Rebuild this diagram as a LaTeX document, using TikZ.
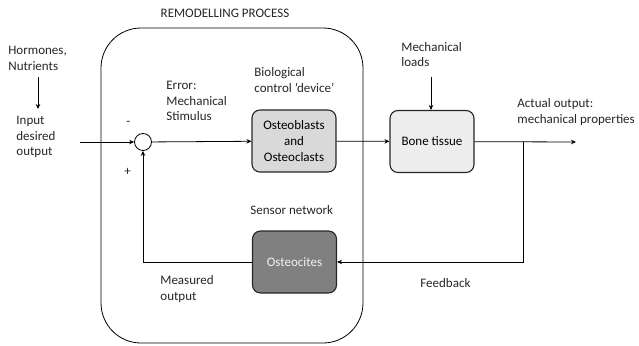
\documentclass[tikz,border=0pt]{standalone}
\usepackage{fontspec}
\setmainfont{Carlito}
\usetikzlibrary{arrows.meta}
\begin{document}
\begin{tikzpicture}[x=1pt,y=-1pt,
  font=\fontsize{13}{15.8}\selectfont,
  line width=0.8pt,
  >={Stealth[length=5pt,width=4.5pt]},
  blk/.style={draw=black!85, line width=1.1pt, rounded corners=8pt, minimum width=84pt, minimum height=62pt, align=center, inner sep=2pt},
  lbl/.style={align=left, inner sep=0pt, anchor=west, text=black!85}
]
\useasboundingbox (0,0) rectangle (639,345);
% container
\node[draw, line width=0.8pt, rounded corners=40pt, minimum width=262pt, minimum height=315pt, inner sep=0pt] (proc) at (232,185.5) {};
\node[inner sep=0pt, text=black!85] (title) at (225,13) {REMODELLING PROCESS};
% blocks
\node[circle, draw, line width=0.8pt, minimum size=17pt, inner sep=0pt] (sum) at (143,142) {};
\node[blk, fill=black!15] (ob) at (294,141) {Osteoblasts\\and\\Osteoclasts};
\node[blk, fill=black!7] (bone) at (432,141.5) {Bone tissue};
\node[blk, fill=black!50, text=black!5] (ost) at (294.5,262) {Osteocites};
% coordinates
\coordinate (in) at (80,142);
\coordinate (out) at (576,142);
\coordinate (br) at (523,142);
\coordinate (h1) at (38,77);
\coordinate (h2) at (38,109);
\coordinate (m1) at (431,77);
% connectors
\draw[->] (in) -- (sum);
\draw[->] (sum) -- (ob);
\draw[->] (ob) -- (bone);
\draw[->] (bone) -- (out);
\draw[->] (br) |- (ost);
\draw[->] (ost) -| (sum);
\draw[->] (h1) -- (h2);
\draw[->] (m1) -- (m1 |- bone.north);
% labels
\node[lbl] (horm) at (8,58.5) {Hormones,\\Nutrients};
\node[lbl] (inp) at (16,137) {Input\\desired\\output};
\node[lbl] (minus) at (126,123) {-};
\node[lbl] (plus) at (124,172) {+};
\node[lbl] (err) at (166,101) {Error:\\Mechanical\\Stimulus};
\node[lbl] (bio) at (254,80) {Biological\\control 'device'};
\node[lbl] (mech) at (401,54.5) {Mechanical\\loads};
\node[lbl] (act) at (517,112) {Actual output:\\mechanical properties};
\node[lbl] (sens) at (250,210) {Sensor network};
\node[lbl] (meas) at (160,289) {Measured\\output};
\node[lbl] (fb) at (420,283) {Feedback};
\end{tikzpicture}
\end{document}
